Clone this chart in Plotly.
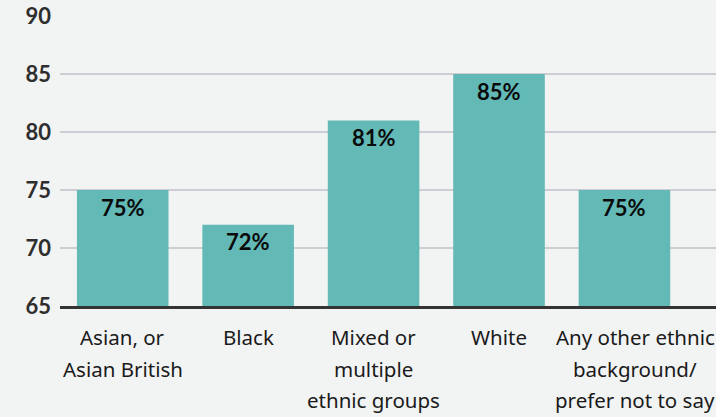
import plotly.graph_objects as go

# Share of respondents by ethnic group (%)
categories = ["Asian, or Asian British", "Black", "Mixed or multiple ethnic groups",
              "White", "Any other ethnic background/ prefer not to say"]
category_lines = [
    ["Asian, or", "Asian British"],
    ["Black"],
    ["Mixed or", "multiple", "ethnic groups"],
    ["White"],
    ["Any other ethnic", "background/", "prefer not to say"],
]
label_offsets = [0, 0, 0, 0, 11]
values = [75, 72, 81, 85, 75]
y_ticks = [65, 70, 75, 80, 85, 90]

BAR = "#62b9b6"
BG = "#f2f3f3"
GRID = "#cdcdd3"
NUM_FONT = "Lato"
TXT_FONT = "Noto Sans"

fig = go.Figure(go.Bar(
    x=categories, y=values, marker=dict(color=BAR, line=dict(width=0)),
    width=0.73, base=0, hoverinfo="skip",
))

annotations = []
# value labels just inside the top of each bar
for c, v in zip(categories, values):
    annotations.append(dict(
        x=c, y=v, xref="x", yref="y", text=f"<b>{v}%</b>", showarrow=False,
        yanchor="middle", yshift=-17,
        font=dict(family=NUM_FONT, size=22, color="#0a0a0a"),
    ))
# multi-line category labels below the axis
for c, lines, dx in zip(categories, category_lines, label_offsets):
    for i, line in enumerate(lines):
        annotations.append(dict(
            x=c, y=0, xref="x", yref="paper", text=line, showarrow=False,
            yanchor="middle", yshift=-31 - 31.5 * i, xshift=dx,
            font=dict(family=TXT_FONT, size=20.5, color="#1a1a1a"),
        ))

fig.update_layout(
    width=716, height=417,
    margin=dict(l=60, r=0, t=16, b=111),
    paper_bgcolor=BG, plot_bgcolor=BG,
    showlegend=False,
    annotations=annotations,
    xaxis=dict(
        range=[-0.5, 4.73], showticklabels=False, showgrid=False,
        showline=True, linecolor="#333333", linewidth=3, ticks="",
    ),
    yaxis=dict(
        range=[65, 90], tickmode="array", tickvals=y_ticks,
        ticktext=[f"<b>{t}</b>" for t in y_ticks],
        showgrid=True, gridcolor=GRID, gridwidth=2,
        zeroline=False, showline=False,
        tickfont=dict(family=NUM_FONT, size=22, color="#2e2e2e"),
        ticks="", ticklabelstandoff=8,
    ),
)

fig.write_html("out.html")
